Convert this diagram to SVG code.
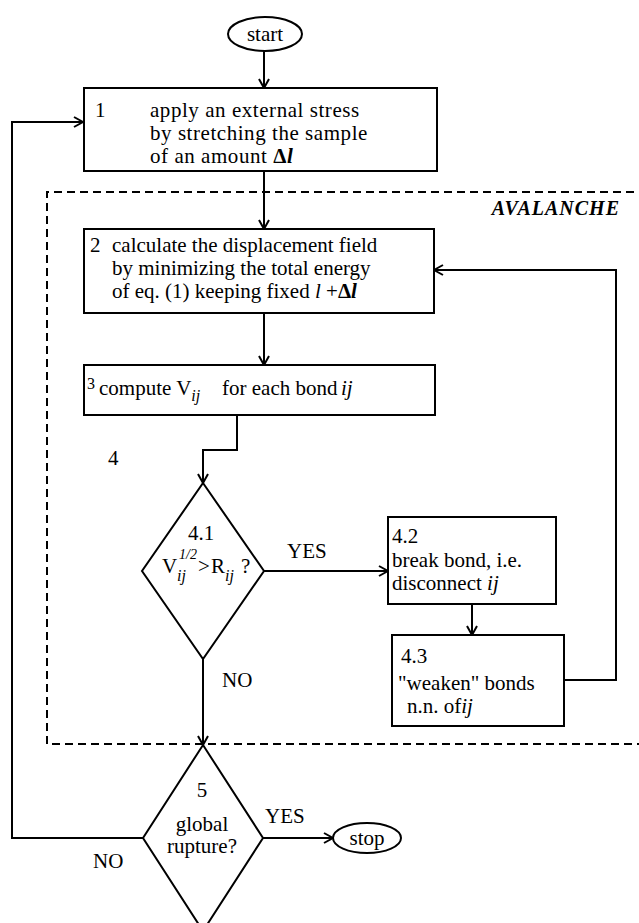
<svg xmlns="http://www.w3.org/2000/svg" width="639" height="923" viewBox="0 0 639 923">
<defs>
<marker id="arr" markerWidth="12" markerHeight="12" refX="10" refY="6" orient="auto" markerUnits="userSpaceOnUse">
<path d="M1,1 L10,6 L1,11" fill="none" stroke="#000" stroke-width="2"/>
</marker>
</defs>
<style>
.s{fill:#fff;stroke:#000;stroke-width:2}
.c{fill:none;stroke:#000;stroke-width:2}
text{font-family:"Liberation Serif","Times New Roman",serif;font-size:21px;fill:#000}
.i{font-style:italic}
.m{text-anchor:middle}
.w{letter-spacing:0.55px}
.sub{font-size:16px;font-style:italic}
.sup{font-size:14px;font-style:italic}
</style>
<rect x="0" y="0" width="639" height="923" fill="#fff"/>
<g id="avalanche">
<path d="M660,192 L47,192 L47,744 L660,744" fill="none" stroke="#000" stroke-width="2" stroke-dasharray="8,5"/>
<text x="620" y="215" text-anchor="end" style="font-weight:bold;font-style:italic;font-size:20px;letter-spacing:1px">AVALANCHE</text>
</g>
<g id="connectors">
<path class="c" d="M264,51 L264,88" marker-end="url(#arr)"/>
<path class="c" d="M264,171 L264,229" marker-end="url(#arr)"/>
<path class="c" d="M264,313 L264,365" marker-end="url(#arr)"/>
<path class="c" d="M237,415 L237,450 L203,450 L203,483" marker-end="url(#arr)"/>
<path class="c" d="M264,571 L388,571" marker-end="url(#arr)"/>
<path class="c" d="M472,604 L472,635" marker-end="url(#arr)"/>
<path class="c" d="M564,680 L616,680 L616,270 L434,270" marker-end="url(#arr)"/>
<path class="c" d="M203,659 L203,745" marker-end="url(#arr)"/>
<path class="c" d="M263,838 L333,838" marker-end="url(#arr)"/>
<path class="c" d="M143,838 L12,838 L12,122 L83,122" marker-end="url(#arr)"/>
<text x="287" y="558">YES</text>
<text x="222" y="687">NO</text>
<text x="265" y="823">YES</text>
<text x="93" y="868">NO</text>
</g>
<g id="start">
<ellipse class="s" cx="265" cy="34" rx="37" ry="17"/>
<text class="m" x="265" y="41">start</text>
</g>
<g id="step1">
<rect class="s" x="84" y="88" width="353" height="83"/>
<text x="95" y="117">1</text>
<text class="w" x="150" y="117">apply an external stress</text>
<text class="w" x="150" y="140">by stretching the sample</text>
<text class="w" x="150" y="163">of an amount  <tspan font-weight="bold">Δ</tspan><tspan class="i" font-weight="bold">l</tspan></text>
</g>
<g id="step2">
<rect class="s" x="84" y="229" width="350" height="84"/>
<text x="90" y="252">2</text>
<text x="112" y="252">calculate the displacement field</text>
<text x="112" y="275">by minimizing the total energy</text>
<text x="112" y="298">of eq. (1) keeping fixed <tspan class="i">l</tspan> +<tspan font-weight="bold">Δ</tspan><tspan class="i" font-weight="bold">l</tspan></text>
</g>
<g id="step3">
<rect class="s" x="84" y="365" width="351" height="50"/>
<text x="87" y="395"><tspan style="font-size:16px" dy="-6">3</tspan><tspan x="99" dy="6">compute V</tspan><tspan class="sub" dy="6">ij</tspan><tspan x="222" dy="-6">for each bond</tspan><tspan class="i" x="341">ij</tspan></text>
</g>
<g id="label4">
<text x="108" y="465">4</text>
</g>
<g id="step41">
<polygon class="s" points="203,483 264,571 203,659 142,571"/>
<text class="m" x="201" y="540">4.1</text>
<text x="162" y="573">V<tspan class="sub" x="177" dy="8">ij</tspan><tspan class="sup" x="179" dy="-22">1/2</tspan><tspan x="198" dy="14">&gt;</tspan><tspan x="211">R</tspan><tspan class="sub" dy="8">ij</tspan><tspan x="241" dy="-8">?</tspan></text>
</g>
<g id="step42">
<rect class="s" x="388" y="517" width="168" height="87"/>
<text x="392" y="543">4.2</text>
<text x="392" y="567">break bond, i.e.</text>
<text x="392" y="590">disconnect  <tspan class="i">ij</tspan></text>
</g>
<g id="step43">
<rect class="s" x="392" y="635" width="172" height="91"/>
<text x="401" y="663">4.3</text>
<text x="398" y="690">"weaken" bonds</text>
<text x="407" y="713">n.n. of<tspan class="i">ij</tspan></text>
</g>
<g id="step5">
<polygon class="s" points="203,745 263,838 203,931 143,838"/>
<text class="m" x="202" y="797">5</text>
<text class="m" x="202" y="831">global</text>
<text class="m" x="202" y="853">rupture?</text>
</g>
<g id="stop">
<ellipse class="s" cx="367" cy="838" rx="34" ry="15"/>
<text class="m" x="367" y="845">stop</text>
</g>
</svg>
